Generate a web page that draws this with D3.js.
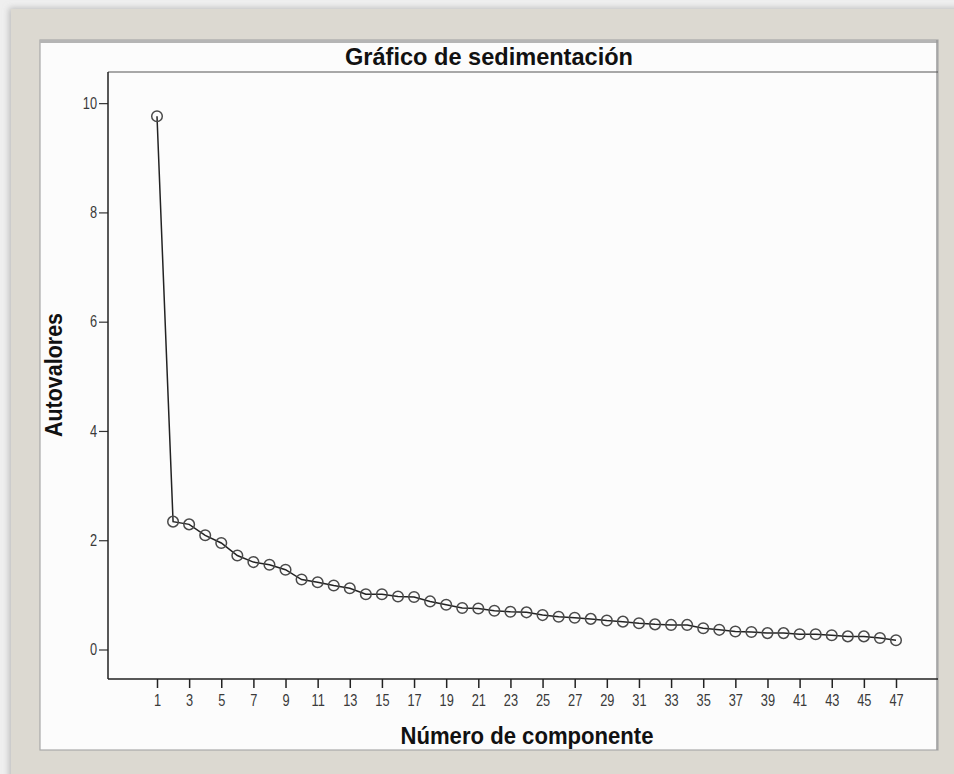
<!DOCTYPE html>
<html>
<head>
<meta charset="utf-8" />
<title>Gráfico de sedimentación</title>
<style>
  body { margin: 0; background: #efefef; }
  svg { display: block; }
</style>
</head>
<body>
<svg id="mysvg" width="954" height="774"></svg>
<script src="https://d3js.org/d3.v7.min.js"></script>
<script>

var components = d3.range(1, 48);
var eigenvalues = [9.76, 2.34, 2.29, 2.09, 1.95, 1.72, 1.60, 1.55, 1.46, 1.28,
  1.23, 1.17, 1.12, 1.01, 1.01, 0.97, 0.96, 0.88, 0.82, 0.76,
  0.75, 0.71, 0.69, 0.68, 0.63, 0.60, 0.58, 0.56, 0.53, 0.51,
  0.48, 0.46, 0.45, 0.45, 0.39, 0.36, 0.33, 0.32, 0.30, 0.30,
  0.28, 0.28, 0.26, 0.24, 0.24, 0.21, 0.17];
var xTicks = d3.range(1, 48, 2);
var yTicks = [0, 2, 4, 6, 8, 10];

var title = "Gráfico de sedimentación";
var xLabel = "Número de componente";
var yLabel = "Autovalores";

var font = '"Liberation Sans", Arial, sans-serif';

var svg = d3.select("#mysvg");

var defs = svg.append("defs");
var sh = defs.append("filter").attr("id", "shadow").attr("x", "-5%").attr("y", "-5%").attr("width", "110%").attr("height", "110%");
sh.append("feDropShadow").attr("dx", -2).attr("dy", -1).attr("stdDeviation", 3).attr("flood-color", "#999").attr("flood-opacity", 0.6);

// beige frame
svg.append("rect")
  .attr("x", 11).attr("y", 9).attr("width", 960).attr("height", 780)
  .attr("fill", "#dcd9d1")
  .attr("filter", "url(#shadow)");

// white panel
svg.append("rect")
  .attr("x", 40).attr("y", 40).attr("width", 898).attr("height", 710)
  .attr("fill", "#fcfcfc")
  .attr("stroke", "#a8a8a8").attr("stroke-width", 1.2);
svg.append("line")
  .attr("x1", 40).attr("x2", 938).attr("y1", 41.5).attr("y2", 41.5)
  .attr("stroke", "#b5b5b5").attr("stroke-width", 3);
svg.append("line")
  .attr("x1", 937).attr("x2", 937).attr("y1", 40).attr("y2", 750)
  .attr("stroke", "#9a9a9a").attr("stroke-width", 1.5);

var x = d3.scaleLinear().domain([1, 47]).range([157, 896]);
var y = d3.scaleLinear().domain([-0.54, 10.57]).range([679, 72]);

var left = 108, right = 938;

// plot frame: top line
svg.append("line")
  .attr("x1", left).attr("x2", right).attr("y1", y(10.57)).attr("y2", y(10.57))
  .attr("stroke", "#555").attr("stroke-width", 1.2);

var xAxis = svg.append("g")
  .attr("transform", "translate(0," + y(-0.54) + ")")
  .call(d3.axisBottom(x).tickValues(xTicks).tickSize(9).tickPadding(7).tickFormat(d3.format("d")));
xAxis.select(".domain").remove();
xAxis.selectAll(".tick line").attr("stroke", "#222").attr("stroke-width", 1.5);
xAxis.selectAll(".tick text")
  .style("font-family", font).style("font-size", "16px").style("fill", "#3a3a3a")
  .attr("transform", "scale(0.8,1)");
svg.append("line")
  .attr("x1", left).attr("x2", right).attr("y1", y(-0.54)).attr("y2", y(-0.54))
  .attr("stroke", "#222").attr("stroke-width", 1.5);

var yAxis = svg.append("g")
  .attr("transform", "translate(" + left + ",0)")
  .call(d3.axisLeft(y).tickValues(yTicks).tickSize(9).tickPadding(2).tickFormat(d3.format("d")));
yAxis.select(".domain").remove();
yAxis.selectAll(".tick line").attr("stroke", "#333").attr("stroke-width", 1.2);
yAxis.selectAll(".tick text")
  .style("font-family", font).style("font-size", "16px").style("fill", "#3a3a3a")
  .attr("transform", "translate(-11,0) scale(0.8,1)").attr("x", 0);
svg.append("line")
  .attr("x1", left).attr("x2", left).attr("y1", y(10.57)).attr("y2", y(-0.54))
  .attr("stroke", "#222").attr("stroke-width", 1.5);

// line + markers
var line = d3.line()
  .x(function(d, i) { return x(components[i]); })
  .y(function(d) { return y(d); });

svg.append("path")
  .datum(eigenvalues)
  .attr("d", line)
  .attr("fill", "none")
  .attr("stroke", "#222")
  .attr("stroke-width", 1.5);

svg.selectAll("circle.pt")
  .data(eigenvalues)
  .enter().append("circle")
  .attr("class", "pt")
  .attr("cx", function(d, i) { return x(components[i]); })
  .attr("cy", function(d) { return y(d); })
  .attr("r", 5.3)
  .attr("fill", "none")
  .attr("stroke", "#4a4a4a")
  .attr("stroke-width", 1.5);

// texts
svg.append("text")
  .attr("x", 489).attr("y", 65)
  .attr("text-anchor", "middle")
  .attr("font-family", font).attr("font-weight", "bold").attr("font-size", 24)
  .attr("textLength", 288).attr("lengthAdjust", "spacingAndGlyphs")
  .attr("fill", "#111")
  .text(title);

svg.append("text")
  .attr("x", 527).attr("y", 744)
  .attr("text-anchor", "middle")
  .attr("font-family", font).attr("font-weight", "bold").attr("font-size", 24)
  .attr("textLength", 253).attr("lengthAdjust", "spacingAndGlyphs")
  .attr("fill", "#111")
  .text(xLabel);

svg.append("text")
  .attr("transform", "translate(62,375) rotate(-90)")
  .attr("text-anchor", "middle")
  .attr("font-family", font).attr("font-weight", "bold").attr("font-size", 24)
  .attr("textLength", 124).attr("lengthAdjust", "spacingAndGlyphs")
  .attr("fill", "#111")
  .text(yLabel);

</script>
</body>
</html>
